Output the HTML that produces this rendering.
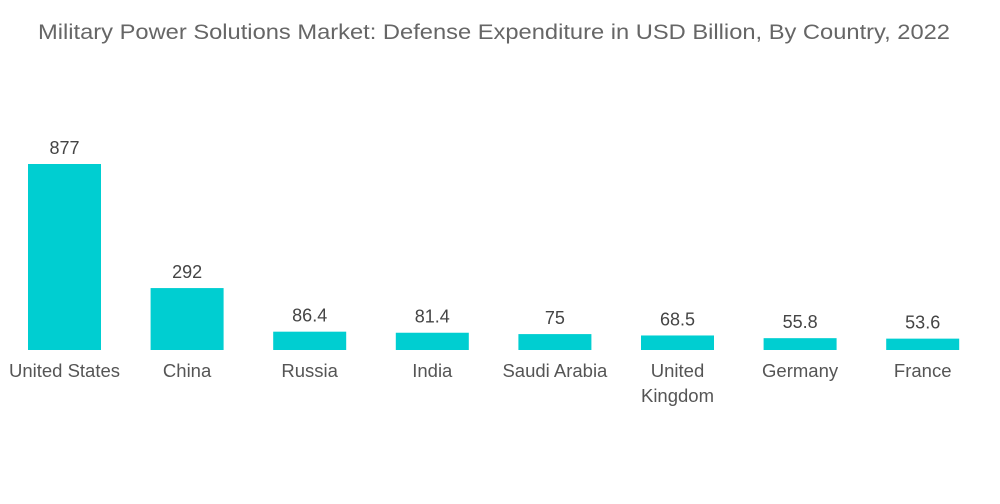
<!DOCTYPE html>
<html><head><meta charset="utf-8">
<style>
html,body{margin:0;padding:0;background:#fff;width:1000px;height:504px;overflow:hidden;font-family:"Liberation Sans",sans-serif;}
svg text{font-family:"Liberation Sans",sans-serif;}
</style></head>
<body>
<svg id="chart" width="1000" height="504">
<text x="494" y="39" text-anchor="middle" font-size="21" fill="#666" textLength="912" lengthAdjust="spacingAndGlyphs">Military Power Solutions Market: Defense Expenditure in USD Billion, By Country, 2022</text>
<g id="bars"></g>
</svg>
<script>
const categories = ["United States","China","Russia","India","Saudi Arabia","United Kingdom","Germany","France"];
const labelLines = [["United States"],["China"],["Russia"],["India"],["Saudi Arabia"],["United","Kingdom"],["Germany"],["France"]];
const values = [877,292,86.4,81.4,75,68.5,55.8,53.6];
const valueLabels = ["877","292","86.4","81.4","75","68.5","55.8","53.6"];

const baseY = 350, pxPerUnit = 186/877;
const x0 = 28, step = 122.6, barW = 73;
function xPos(i){ return x0 + i*step; }
function yPos(v){ return baseY - v*pxPerUnit; }
const ns = "http://www.w3.org/2000/svg";
const g = document.getElementById("bars");
values.forEach((v,i)=>{
  const r = document.createElementNS(ns,"rect");
  r.setAttribute("x", xPos(i));
  r.setAttribute("y", yPos(v));
  r.setAttribute("width", barW);
  r.setAttribute("height", baseY - yPos(v));
  r.setAttribute("fill", "#00ced1");
  
  
  g.appendChild(r);
  const t = document.createElementNS(ns,"text");
  t.setAttribute("x", xPos(i)+barW/2);
  t.setAttribute("y", yPos(v)-10);
  t.setAttribute("text-anchor","middle");
  t.setAttribute("font-size","18");
  t.setAttribute("fill","#444");
  t.textContent = valueLabels[i];
  
  
  g.appendChild(t);
  labelLines[i].forEach((ln,j)=>{
    const c = document.createElementNS(ns,"text");
    c.setAttribute("x", xPos(i)+barW/2);
    c.setAttribute("y", 377 + j*25);
    c.setAttribute("text-anchor","middle");
    c.setAttribute("font-size","18.5");
    c.setAttribute("fill","#555");
    c.textContent = ln;
    
    
    g.appendChild(c);
  });
});
</script>
</body></html>
